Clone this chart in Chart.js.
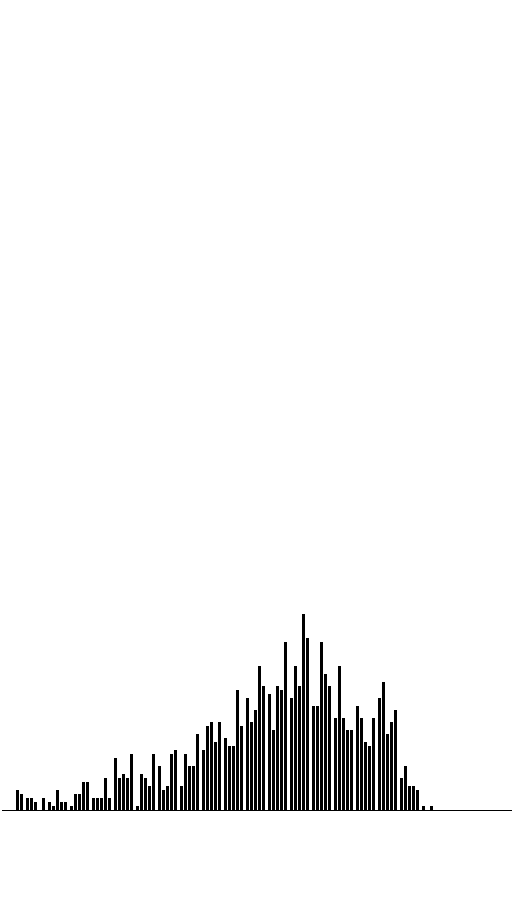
<!DOCTYPE html>
<html>
<head>
<meta charset="utf-8">
<script src="https://cdn.jsdelivr.net/npm/chart.js@4/dist/chart.umd.min.js"></script>
<style>
  html, body { margin: 0; padding: 0; background: #fff; }
  #wrap { width: 512px; height: 900px; }
</style>
</head>
<body>
<div id="wrap"><canvas id="c" width="512" height="900"></canvas></div>
<script>
// Categories (groups of five bars)
const weeks = ['1','2','3','4','5','6','7','8','9','10','11','12','13','14','15','16','17','18','19','20'];
// Series values (one per position inside each group)
const day1 = [0, 3, 2, 1, 3, 13, 1, 11, 6, 15, 18, 28, 29, 28, 26, 23, 26, 28, 8, 1];
const day2 = [0, 3, 1, 4, 3, 8, 9, 5, 14, 21, 16, 22, 20, 36, 26, 36, 23, 32, 11, 0];
const day3 = [0, 2, 5, 4, 3, 9, 8, 6, 11, 22, 16, 25, 31, 31, 42, 23, 17, 19, 6, 1];
const day4 = [5, 0, 2, 7, 8, 8, 6, 14, 11, 17, 30, 36, 30, 49, 34, 20, 16, 22, 6, 0];
const day5 = [4, 3, 2, 7, 3, 14, 14, 15, 19, 22, 21, 31, 42, 43, 31, 20, 23, 25, 5, 0];
const seriesNames = ['Mon', 'Tue', 'Wed', 'Thu', 'Fri'];
const seriesValues = [day1, day2, day3, day4, day5];

const baseline = {
  id: 'baseline',
  afterDatasetsDraw(chart) {
    const ctx = chart.ctx;
    const y = Math.round(chart.scales.y.getPixelForValue(0)) + 0.5;
    ctx.save();
    ctx.strokeStyle = '#000';
    ctx.lineWidth = 1;
    ctx.beginPath();
    ctx.moveTo(2, y);
    ctx.lineTo(chart.width, y);
    ctx.stroke();
    ctx.restore();
  }
};

new Chart(document.getElementById('c'), {
  type: 'bar',
  data: {
    labels: weeks,
    datasets: seriesValues.map((vals, i) => ({
      label: seriesNames[i],
      data: vals,
      backgroundColor: '#000',
      borderWidth: 0,
      barPercentage: 0.75,
      categoryPercentage: 20 / 22
    }))
  },
  options: {
    responsive: false,
    animation: false,
    layout: { padding: { left: 2.5, right: 69.5, top: 10, bottom: 90 } },
    plugins: { legend: { display: false }, tooltip: { enabled: false } },
    scales: {
      x: { display: false, offset: true, grid: { display: false } },
      y: { display: false, min: 0, max: 200, grid: { display: false } }
    }
  },
  plugins: [baseline]
});
</script>
</body>
</html>
